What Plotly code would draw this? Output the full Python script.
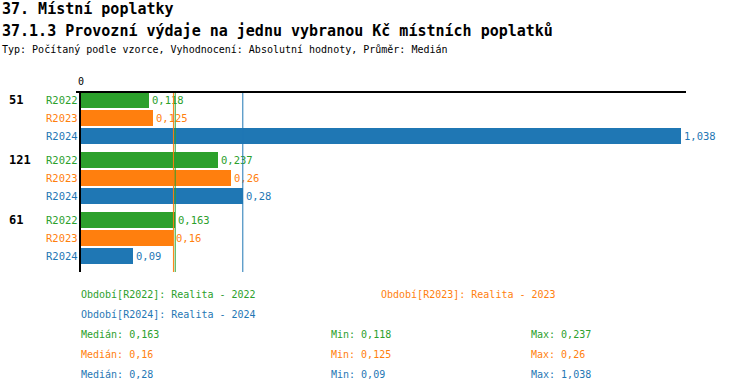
import plotly.graph_objects as go
import statistics

groups = ["51", "121", "61"]
series = ["R2022", "R2023", "R2024"]
series_names = ["Realita - 2022", "Realita - 2023", "Realita - 2024"]
colors = ["#2ca02c", "#ff7f0e", "#1f77b4"]
values = {
    "R2022": [0.118, 0.237, 0.163],
    "R2023": [0.125, 0.26, 0.16],
    "R2024": [1.038, 0.28, 0.09],
}
x_tick_vals = [0]
x_tick_text = ["0"]

title1 = "37. Místní poplatky"
title2 = "37.1.3 Provozní výdaje na jednu vybranou Kč místních poplatků"
subtitle = "Typ: Počítaný podle vzorce, Vyhodnocení: Absolutní hodnoty, Průměr: Medián"

MONO = "DejaVu Sans Mono"


def fmt(v):
    s = ("%.3f" % v).rstrip("0").rstrip(".")
    return s.replace(".", ",")


G_STEP, R_STEP, FIRST = 60, 18, 8


def ypos(g, r):
    return FIRST + g * G_STEP + r * R_STEP


L, R_, T, B = 81, 64, 92, 120
PW, PH = 750 - L - R_, 392 - T - B

fig = go.Figure()
annotations = []
shapes = []


def ptext(x, y, text, size, color="black", bold=False, anchor="left"):
    annotations.append(dict(x=(x - L) / PW, y=1 - (y - T) / PH, xref="paper", yref="paper",
                            text=("<b>%s</b>" % text) if bold else text, showarrow=False,
                            xanchor=anchor, yanchor="middle",
                            font=dict(family=MONO, size=size, color=color)))


for si, s in enumerate(series):
    ys = [ypos(g, si) for g in range(len(groups))]
    fig.add_trace(go.Bar(
        x=values[s], y=ys, orientation="h", width=16,
        marker=dict(color=colors[si], line=dict(width=0)),
        text=[fmt(v) for v in values[s]], textposition="outside",
        textfont=dict(family=MONO, size=10.5, color=colors[si]),
        cliponaxis=False, showlegend=False, hoverinfo="skip",
    ))
    med = statistics.median(values[s])
    shapes.append(dict(type="line", xref="x", yref="paper", x0=med, x1=med, y0=0, y1=1,
                       line=dict(color=colors[si], width=1), layer="above"))
    for g in range(len(groups)):
        annotations.append(dict(x=0, xref="paper", xshift=-1, y=ypos(g, si), yref="y", text=s,
                                showarrow=False, xanchor="right", yanchor="middle",
                                font=dict(family=MONO, size=10.5, color=colors[si])))

for g, name in enumerate(groups):
    annotations.append(dict(x=(7 - L) / PW, xref="paper", y=ypos(g, 0), yref="y",
                            text="<b>%s</b>" % name, showarrow=False, xanchor="left", yanchor="middle",
                            font=dict(family=MONO, size=12, color="black")))

# x tick labels placed above the top axis line
for tv, tt in zip(x_tick_vals, x_tick_text):
    annotations.append(dict(x=tv, xref="x", y=1, yref="paper", yshift=11, text=tt,
                            showarrow=False, xanchor="center", yanchor="middle",
                            font=dict(family=MONO, size=10, color="black")))

# top axis line extending slightly left of the y axis
shapes.append(dict(type="line", xref="paper", yref="paper", x0=-5 / PW, x1=1, y0=1, y1=1,
                   line=dict(color="black", width=2), layer="above"))

ptext(0, 9, title1, 15, bold=True)
ptext(0, 31, title2, 15, bold=True)
ptext(0, 50, subtitle, 10)

ptext(79, 294, "Období[%s]: %s" % (series[0], series_names[0]), 10, colors[0])
ptext(379, 294, "Období[%s]: %s" % (series[1], series_names[1]), 10, colors[1])
ptext(79, 314, "Období[%s]: %s" % (series[2], series_names[2]), 10, colors[2])
for si, s in enumerate(series):
    yy = 334 + 20 * si
    ptext(79, yy, "Medián: %s" % fmt(statistics.median(values[s])), 10, colors[si])
    ptext(329, yy, "Min: %s" % fmt(min(values[s])), 10, colors[si])
    ptext(529, yy, "Max: %s" % fmt(max(values[s])), 10, colors[si])

fig.update_layout(
    width=750, height=392,
    margin=dict(l=L, r=R_, t=T, b=B),
    plot_bgcolor="white", paper_bgcolor="white",
    bargap=0,
    xaxis=dict(range=[0, 1.047], side="top", showgrid=False, zeroline=False,
               showline=False, showticklabels=False, ticks=""),
    yaxis=dict(range=[180, 0], showgrid=False, zeroline=False, showticklabels=False,
               showline=True, linecolor="black", linewidth=2, ticks=""),
    annotations=annotations, shapes=shapes,
)

fig.write_html("out.html", config={"displayModeBar": False},
               post_script="document.body.style.margin='0';document.body.style.overflow='hidden';")
